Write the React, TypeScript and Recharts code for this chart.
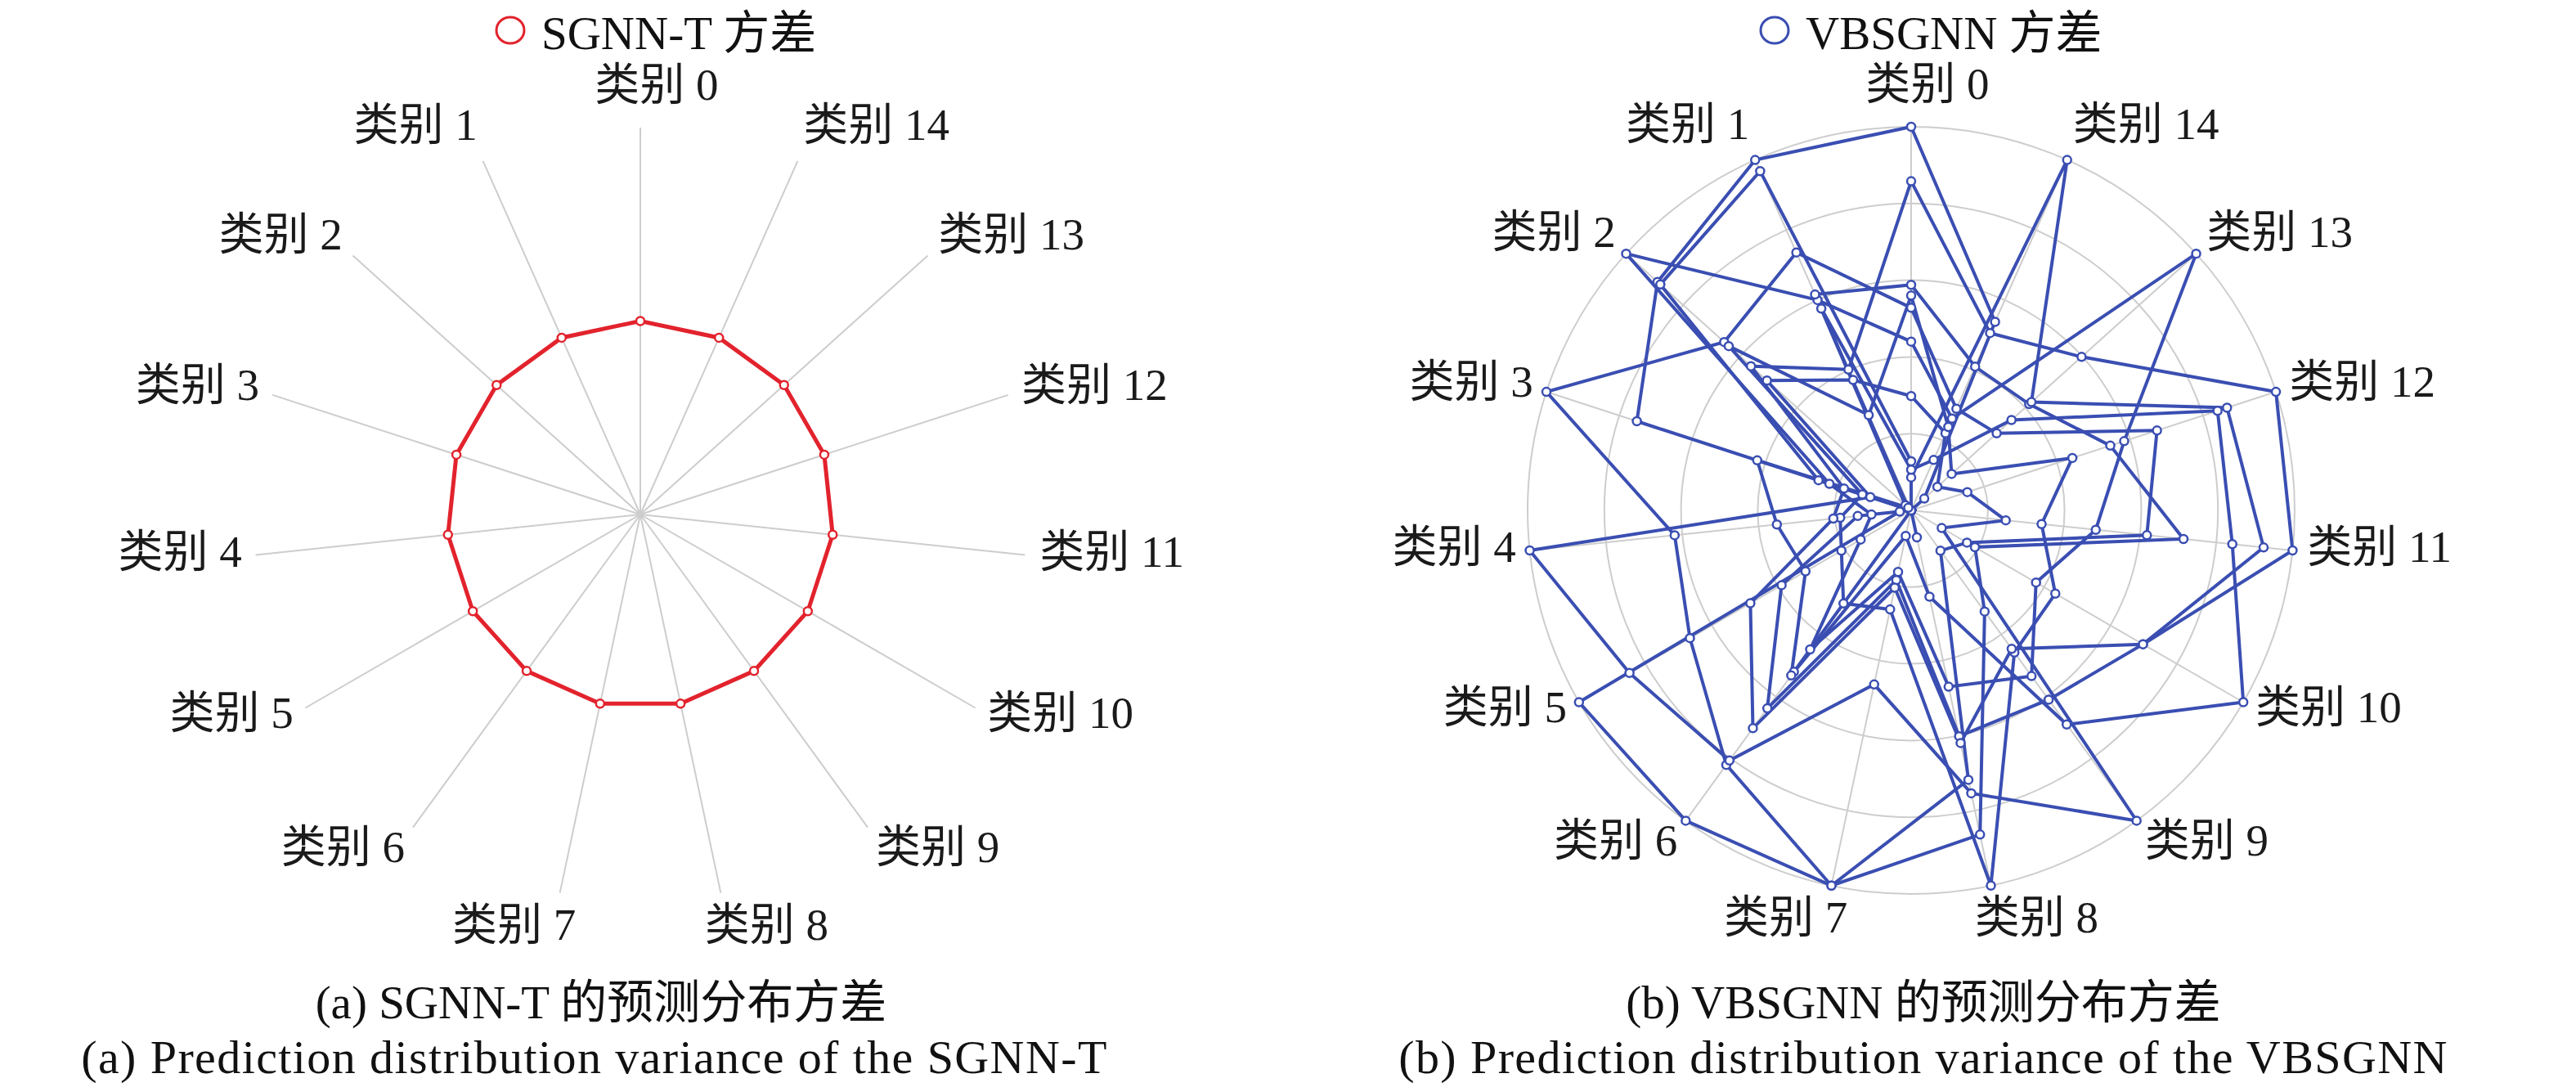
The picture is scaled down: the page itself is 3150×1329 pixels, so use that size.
import React from "react"
import { RadarChart, Radar, PolarGrid, PolarAngleAxis, PolarRadiusAxis } from "recharts"

// category names, counter-clockwise from the top
const categories = [
  "类别 0", "类别 1", "类别 2", "类别 3", "类别 4", "类别 5", "类别 6", "类别 7",
  "类别 8", "类别 9", "类别 10", "类别 11", "类别 12", "类别 13", "类别 14",
]

// (a) SGNN-T: same variance for every class
const sgnntVariance = [2.5, 2.5, 2.5, 2.5, 2.5, 2.5, 2.5, 2.5, 2.5, 2.5, 2.5, 2.5, 2.5, 2.5, 2.5]

// (b) VBSGNN: ten samples, scaled so each class max sits on the outer ring
const vbA = [5.0, 5.0, 4.45, 3.76, 0, 0, 2.6, 0, 0.36, 0, 0, 0, 0, 0.23, 2.69]
const vbB = [0.64, 4.84, 4.4, 1.27, 0, 0, 0, 0, 0, 0, 0, 0, 0, 0, 0]
const vbC = [2.2, 3.0, 5.0, 1.12, 0.52, 0.76, 2.24, 0.82, 2.35, 2.67, 1.88, 2.42, 2.92, 5.0, 1.31]
const vbD = [2.64, 3.68, 3.28, 5.0, 3.1, 3.33, 4.1, 5.0, 3.59, 0.65, 0.84, 3.09, 3.37, 1.5, 1.45]
const vbE = [1.49, 1.86, 2.53, 0.56, 5.0, 4.24, 4.03, 2.32, 3.77, 5.0, 0.46, 1.24, 0.77, 0.46, 1.1]
const vbF = [2.94, 3.08, 0.1, 0, 0.15, 5.0, 5.0, 5.0, 4.32, 1.63, 0.96, 3.57, 2.73, 2.07, 2.05]
const vbG = [0.43, 0, 0, 0, 0.7, 1.95, 3.19, 0.93, 3.01, 3.05, 3.49, 4.62, 4.33, 2.11, 5.0]
const vbH = [2.8, 1.36, 3.2, 0.67, 0.93, 1.05, 1.5, 1.32, 5.0, 2.29, 2.17, 1.71, 2.21, 0.71, 1.19]
const vbI = [0.53, 2.88, 0.05, 2.11, 1.76, 1.59, 2.66, 0.34, 1.15, 3.45, 5.0, 4.21, 4.2, 1.76, 0.72]
const vbJ = [4.29, 2.01, 2.81, 0.92, 1.02, 2.42, 3.51, 1.03, 3.1, 2.23, 3.49, 5.0, 5.0, 2.99, 2.53]

const vbSeries = [vbA, vbB, vbC, vbD, vbE, vbF, vbG, vbH, vbI, vbJ]
const vbKeys = ["s0", "s1", "s2", "s3", "s4", "s5", "s6", "s7", "s8", "s9"]

const RED = "#e2232d"
const BLUE = "#3a4eb2"
const GRID = "#cdcdcd"
const FONT = '"Liberation Serif", "Noto Sans CJK SC", serif'
const LABEL_SIZE = 55
const STEP = 360 / categories.length

// on an ascending (ccw) angle range recharts draws the radar one band past the
// scale and the ticks one band before it, so start one band before 12 o'clock
const START = 90 - STEP
const END = START + 360

const leftData = categories.map((cat, i) => ({ cat, v: sgnntVariance[i] }))
const rightData = categories.map((cat, i) => {
  const row: Record<string, any> = { cat }
  vbSeries.forEach((s, k) => { row[vbKeys[k]] = s[i] })
  return row
})

// tick coordinate comes two bands behind the drawn data, so move names round
function makeTick(cx: number, cy: number, radius: number) {
  return function CategoryTick(props: any) {
    const { payload } = props
    const a = ((payload.coordinate + 2 * STEP) * Math.PI) / 180
    const c = Math.cos(a)
    const s = Math.sin(a)
    const label = String(payload.value)
    const w = LABEL_SIZE * (2.25 + 0.5 * (label.length - 3))
    const k = Math.min(1, Math.abs(c) / 0.3)
    const r = radius + 17
    let tx = cx + r * c + Math.sign(c) * (w / 2) * k
    if (Math.abs(c) < 0.05) tx += 20
    const ty = cy - r * s - 6 - 30 * s * s * s
    return (
      <text x={tx} y={ty} textAnchor="middle" dominantBaseline="central"
        fontSize={LABEL_SIZE} fontFamily={FONT} fill="#1a1a1a">
        {label}
      </text>
    )
  }
}

const margin = { top: 0, right: 0, bottom: 0, left: 0 }

export default function App() {
  return (
    <div style={{ position: "absolute", left: 0, top: 0, width: 3150, height: 1329, background: "#fff" }}>
      <div style={{ position: "absolute", left: 0, top: 0 }}>
        <RadarChart width={1570} height={1329} data={leftData} cx={783} cy={629} outerRadius={473}
          startAngle={START} endAngle={END} margin={margin}>
          <PolarGrid gridType="circle" polarRadius={[]} stroke={GRID} strokeWidth={2} />
          <PolarAngleAxis dataKey="cat" tick={makeTick(783, 629, 473)} tickLine={false} axisLine={false} />
          <PolarRadiusAxis domain={[0, 5]} tickCount={6} tick={false} axisLine={false} />
          <Radar dataKey="v" stroke={RED} strokeWidth={5} fill="none" isAnimationActive={false}
            dot={{ r: 5, fill: "#fff", stroke: RED, strokeWidth: 2.5 }} />
        </RadarChart>
      </div>
      <div style={{ position: "absolute", left: 1575, top: 0 }}>
        <RadarChart width={1575} height={1329} data={rightData} cx={762} cy={624} outerRadius={469}
          startAngle={START} endAngle={END} margin={margin}>
          <PolarGrid gridType="circle" stroke={GRID} strokeWidth={2} />
          <PolarAngleAxis dataKey="cat" tick={makeTick(762, 624, 469)} tickLine={false} axisLine={false} />
          <PolarRadiusAxis domain={[0, 5]} tickCount={6} tick={false} axisLine={false} />
          {vbKeys.map((key) => (
            <Radar key={key} dataKey={key} stroke={BLUE} strokeWidth={4} fill="none"
              isAnimationActive={false}
              dot={{ r: 5, fill: "#fff", stroke: BLUE, strokeWidth: 2.5 }} />
          ))}
        </RadarChart>
      </div>
      <svg width={3150} height={1329} style={{ position: "absolute", left: 0, top: 0, pointerEvents: "none" }}
        fontFamily={FONT} fill="#111">
        <ellipse cx={624} cy={37} rx={17} ry={16} fill="#fff" stroke={RED} strokeWidth={3} />
        <text x={662} y={40} fontSize={57} dominantBaseline="central">SGNN-T 方差</text>
        <ellipse cx={2170} cy={37} rx={17} ry={16} fill="#fff" stroke={BLUE} strokeWidth={3} />
        <text x={2208} y={40} fontSize={57} dominantBaseline="central">VBSGNN 方差</text>

        <text x={735} y={1225} fontSize={57} textAnchor="middle" dominantBaseline="central">(a) SGNN-T 的预测分布方差</text>
        <text x={727} y={1292} fontSize={58} letterSpacing={1.4} textAnchor="middle" dominantBaseline="central">(a) Prediction distribution variance of the SGNN-T</text>
        <text x={2352} y={1225} fontSize={57} textAnchor="middle" dominantBaseline="central">(b) VBSGNN 的预测分布方差</text>
        <text x={2352} y={1292} fontSize={58} letterSpacing={1.4} textAnchor="middle" dominantBaseline="central">(b) Prediction distribution variance of the VBSGNN</text>
      </svg>
    </div>
  )
}
